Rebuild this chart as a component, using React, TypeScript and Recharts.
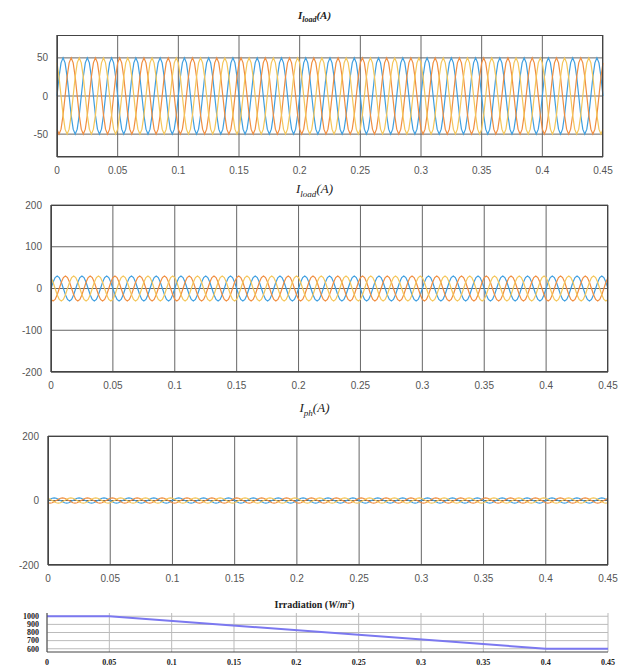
import { LineChart, Line, XAxis, YAxis, CartesianGrid } from "recharts"

// time axis ticks (s)
const timeTicks = [0, 0.05, 0.1, 0.15, 0.2, 0.25, 0.3, 0.35, 0.4, 0.45]

// one 50 Hz cycle read as 12 samples (normalised), phases B and C lag by 4 and 8 samples
const cycleShape = [0, 0.5, 0.87, 1, 0.87, 0.5, 0, -0.5, -0.87, -1, -0.87, -0.5]
const samplesPerCycle = 12
const cycleCount = 22.5

// peak current of each panel (A)
const loadPeak = 50
const loadPeak2 = 30
const phPeak = 8

// irradiation profile (s, W/m2)
const irrTime = [0, 0.05, 0.4, 0.45]
const irrValue = [1000, 1000, 600, 600]

const BLUE = "#3f9fe0"
const ORANGE = "#f08e40"
const YELLOW = "#f4c65a"

function threePhase(peak: number) {
  const n = Math.round(cycleCount * samplesPerCycle)
  const rows = []
  for (let i = 0; i <= n; i++) {
    rows.push({
      t: (0.45 * i) / n,
      a: peak * cycleShape[i % samplesPerCycle],
      b: peak * cycleShape[(i + 8) % samplesPerCycle],
      c: peak * cycleShape[(i + 4) % samplesPerCycle],
    })
  }
  return rows
}

const irrData = irrTime.map((t, i) => ({ t, v: irrValue[i] }))

const sansTick = { fontSize: 10, fill: "#555", fontFamily: "Arial, Liberation Sans, sans-serif" }
const serifTick = { fontSize: 8, fill: "#222", fontWeight: 700, fontFamily: "Liberation Serif, serif" }

function Title({ top, children, style }: { top: number; children: any; style?: any }) {
  return (
    <div
      style={{
        position: "absolute",
        top,
        left: 0,
        width: 629,
        textAlign: "center",
        fontFamily: "Liberation Serif, serif",
        fontStyle: "italic",
        fontSize: 13,
        color: "#222",
        lineHeight: "16px",
        ...style,
      }}
    >
      {children}
    </div>
  )
}

function PhasePanel({
  top, height, left, right, plotTop, plotBottom, domain, ticks, peak,
}: {
  top: number; height: number; left: number; right: number; plotTop: number; plotBottom: number
  domain: [number, number]; ticks: number[]; peak: number
}) {
  const data = threePhase(peak)
  return (
    <div style={{ position: "absolute", top, left: 0 }}>
      <LineChart
        width={629}
        height={height}
        data={data}
        margin={{ top: plotTop, right: 629 - right, bottom: height - plotBottom - 20, left: 0 }}
      >
        <CartesianGrid stroke="#666" strokeWidth={1} horizontalValues={ticks} verticalValues={timeTicks} />
        <XAxis
          dataKey="t"
          type="number"
          domain={[0, 0.45]}
          ticks={timeTicks}
          tick={sansTick}
          tickLine={false}
          axisLine={{ stroke: "#444" }}
          tickMargin={4}
          height={20}
          interval={0}
        />
        <YAxis
          type="number"
          domain={domain}
          ticks={ticks}
          tick={sansTick}
          tickLine={false}
          axisLine={{ stroke: "#444" }}
          width={left}
          tickMargin={3}
          interval={0}
        />
        <Line dataKey="a" stroke={BLUE} strokeWidth={1.2} dot={false} isAnimationActive={false} />
        <Line dataKey="b" stroke={ORANGE} strokeWidth={1.2} dot={false} isAnimationActive={false} />
        <Line dataKey="c" stroke={YELLOW} strokeWidth={1.2} dot={false} isAnimationActive={false} />
      </LineChart>
      <div
        style={{
          position: "absolute",
          left,
          top: plotTop,
          width: right - left,
          height: plotBottom - plotTop,
          border: "1px solid #444",
          boxSizing: "border-box",
          pointerEvents: "none",
        }}
      />
    </div>
  )
}

export default function App() {
  return (
    <div style={{ position: "absolute", left: 0, top: 0, width: 629, height: 666, background: "#fff" }}>
      <Title top={7} style={{ fontWeight: 700, fontSize: 11 }}>
        I<sub style={{ fontSize: 8 }}>load</sub>(A)
      </Title>
      <PhasePanel top={0} height={182} left={57} right={603} plotTop={35} plotBottom={157}
        domain={[-80, 80]} ticks={[-50, 0, 50]} peak={loadPeak} />

      <Title top={181}>
        I<sub style={{ fontSize: 9 }}>load</sub>(A)
      </Title>
      <PhasePanel top={182} height={215} left={51} right={608} plotTop={23} plotBottom={190}
        domain={[-200, 200]} ticks={[-200, -100, 0, 100, 200]} peak={loadPeak2} />

      <Title top={400}>
        I<sub style={{ fontSize: 9 }}>ph</sub>(A)
      </Title>
      <PhasePanel top={397} height={195} left={48} right={608} plotTop={39} plotBottom={168}
        domain={[-200, 200]} ticks={[-200, 0, 200]} peak={phPeak} />

      <Title top={594} style={{ fontStyle: "normal", fontWeight: 700, fontSize: 10 }}>
        Irradiation (<i>W</i>/<i>m</i><sup style={{ fontSize: 7 }}>2</sup>)
      </Title>
      <div style={{ position: "absolute", top: 600, left: 0 }}>
        <LineChart
          width={629}
          height={66}
          data={irrData}
          margin={{ top: 13, right: 21, bottom: 0, left: 0 }}
        >
          <CartesianGrid stroke="#bbb" horizontalValues={[600, 700, 800, 900, 1000]} verticalValues={timeTicks} />
          <XAxis
            dataKey="t"
            type="number"
            domain={[0, 0.45]}
            ticks={timeTicks}
            tick={serifTick}
            tickLine={false}
            axisLine={{ stroke: "#444" }}
            tickMargin={1}
            height={14}
            interval={0}
          />
          <YAxis
            type="number"
            domain={[560, 1040]}
            ticks={[600, 700, 800, 900, 1000]}
            tick={serifTick}
            tickLine={false}
            axisLine={{ stroke: "#444" }}
            width={47}
            tickMargin={2}
            interval={0}
          />
          <Line dataKey="v" stroke="#7b78f0" strokeWidth={2} dot={false} isAnimationActive={false} />
        </LineChart>
      </div>
    </div>
  )
}
